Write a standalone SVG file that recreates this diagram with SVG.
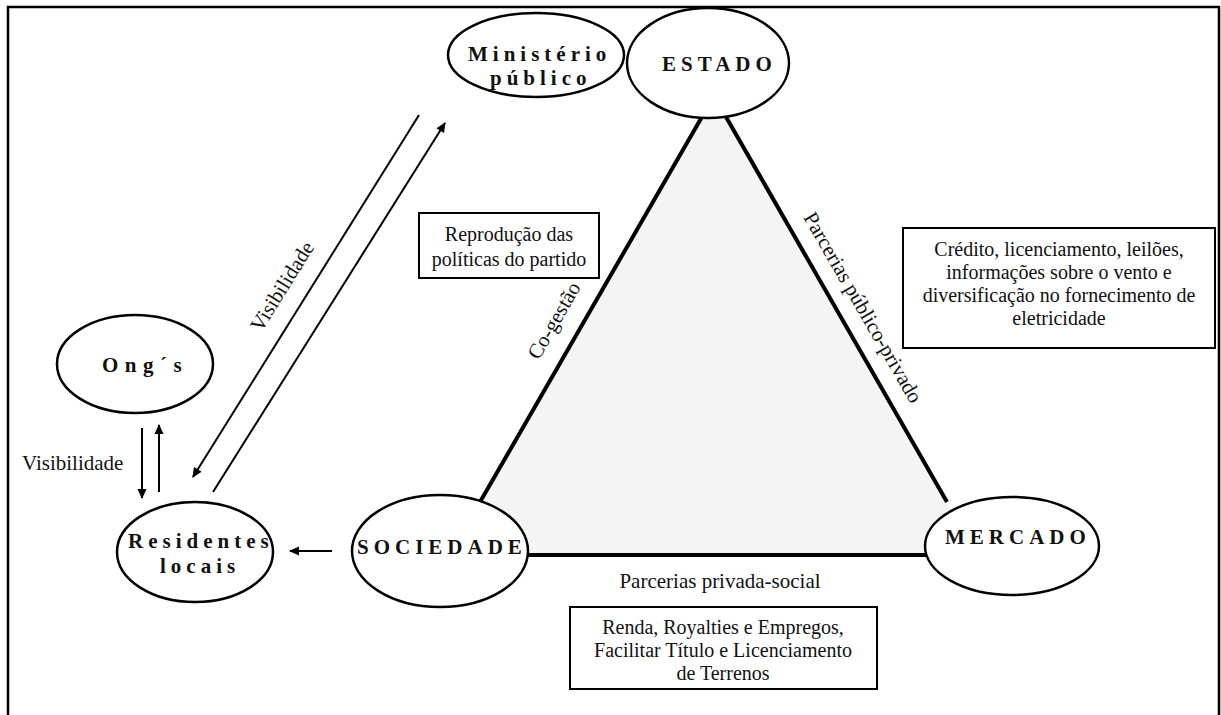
<svg xmlns="http://www.w3.org/2000/svg" width="1221" height="715" viewBox="0 0 1221 715">
  <defs>
    <marker id="arrow" viewBox="0 0 10 10" refX="9" refY="5" markerWidth="11" markerHeight="10" markerUnits="userSpaceOnUse" orient="auto">
      <path d="M0,0.5 L10,5 L0,9.5 Z" fill="#000"/>
    </marker>
    <style>
      .frame { fill: none; stroke: #000; stroke-width: 2.5; }
      .node ellipse { fill: #fff; stroke: #000; stroke-width: 2.5; }
      .edge { fill: none; stroke: #000; stroke-width: 4; }
      .conn { fill: none; stroke: #000; stroke-width: 2; marker-end: url(#arrow); }
      .title { font-family: "Liberation Serif", "Times New Roman", serif; font-weight: bold; font-size: 21px; letter-spacing: 5px; fill: #111; }
      .label { font-family: "Liberation Serif", "Times New Roman", serif; font-size: 21px; fill: #111; }
      .boxtext { font-family: "Liberation Serif", "Times New Roman", serif; font-size: 20px; fill: #111; text-anchor: middle; }
      .box { fill: #fff; stroke: #000; stroke-width: 2; }
    </style>
  </defs>

  <rect x="0" y="0" width="1221" height="715" fill="#fff"/>
  <!-- outer frame -->
  <path class="frame" d="M8,720 V7 H1219 V720"/>

  <!-- central triangle: Estado / Sociedade / Mercado -->
  <g id="triangle">
    <polygon points="714,96 449,555 977,555" fill="#f4f4f4"/>
    <line class="edge" x1="480" y1="502" x2="714" y2="96"/>
    <line class="edge" x1="714" y1="96" x2="947" y2="502"/>
    <line class="edge" x1="500" y1="555" x2="940" y2="555"/>
  </g>

  <!-- connectors -->
  <g id="connectors">
    <line class="conn" x1="419" y1="115" x2="193" y2="477"/>
    <line class="conn" x1="213" y1="492" x2="445" y2="123"/>
    <line class="conn" x1="142" y1="428" x2="142" y2="498"/>
    <line class="conn" x1="159" y1="492" x2="159" y2="425"/>
    <line class="conn" x1="332" y1="551" x2="290" y2="551"/>
  </g>

  <!-- nodes -->
  <g id="ministerio" class="node">
    <ellipse cx="536" cy="55" rx="88" ry="42"/>
    <text class="title" x="468" y="61">Ministério</text>
    <text class="title" x="490" y="85">público</text>
  </g>
  <g id="estado" class="node">
    <ellipse cx="708" cy="63" rx="81" ry="55"/>
    <text class="title" x="662" y="71">ESTADO</text>
  </g>
  <g id="ongs" class="node">
    <ellipse cx="135" cy="364" rx="78" ry="49"/>
    <text class="title" x="102" y="372" style="letter-spacing:6.5px">Ong´s</text>
  </g>
  <g id="residentes" class="node">
    <ellipse cx="195" cy="552" rx="78" ry="50"/>
    <text class="title" x="128" y="548">Residentes</text>
    <text class="title" x="160" y="573">locais</text>
  </g>
  <g id="sociedade" class="node">
    <ellipse cx="440" cy="551" rx="88" ry="56"/>
    <text class="title" x="357" y="554">SOCIEDADE</text>
  </g>
  <g id="mercado" class="node">
    <ellipse cx="1012" cy="546" rx="87" ry="49"/>
    <text class="title" x="945" y="544">MERCADO</text>
  </g>

  <!-- edge labels -->
  <g id="labels">
    <text class="label" x="22" y="470">Visibilidade</text>
    <text class="label" text-anchor="middle" transform="translate(288,290) rotate(-58)">Visibilidade</text>
    <text class="label" text-anchor="middle" transform="translate(560,324) rotate(-60)">Co-gestão</text>
    <text class="label" text-anchor="middle" transform="translate(857,311) rotate(60)">Parcerias público-privado</text>
    <text class="label" text-anchor="middle" x="720" y="588">Parcerias privada-social</text>
  </g>

  <!-- text boxes -->
  <g id="box-partido">
    <rect class="box" x="419" y="213" width="180" height="65"/>
    <text class="boxtext" x="509" y="241">Reprodução das</text>
    <text class="boxtext" x="509" y="266">políticas do partido</text>
  </g>
  <g id="box-mercado">
    <rect class="box" x="903" y="228" width="312" height="120"/>
    <text class="boxtext" x="1059" y="256">Crédito, licenciamento, leilões,</text>
    <text class="boxtext" x="1059" y="279">informações sobre o vento e</text>
    <text class="boxtext" x="1059" y="302">diversificação no fornecimento de</text>
    <text class="boxtext" x="1059" y="325">eletricidade</text>
  </g>
  <g id="box-social">
    <rect class="box" x="570" y="607" width="307" height="82"/>
    <text class="boxtext" x="723" y="634">Renda, Royalties e Empregos,</text>
    <text class="boxtext" x="723" y="657">Facilitar Título e Licenciamento</text>
    <text class="boxtext" x="723" y="680">de Terrenos</text>
  </g>
</svg>
